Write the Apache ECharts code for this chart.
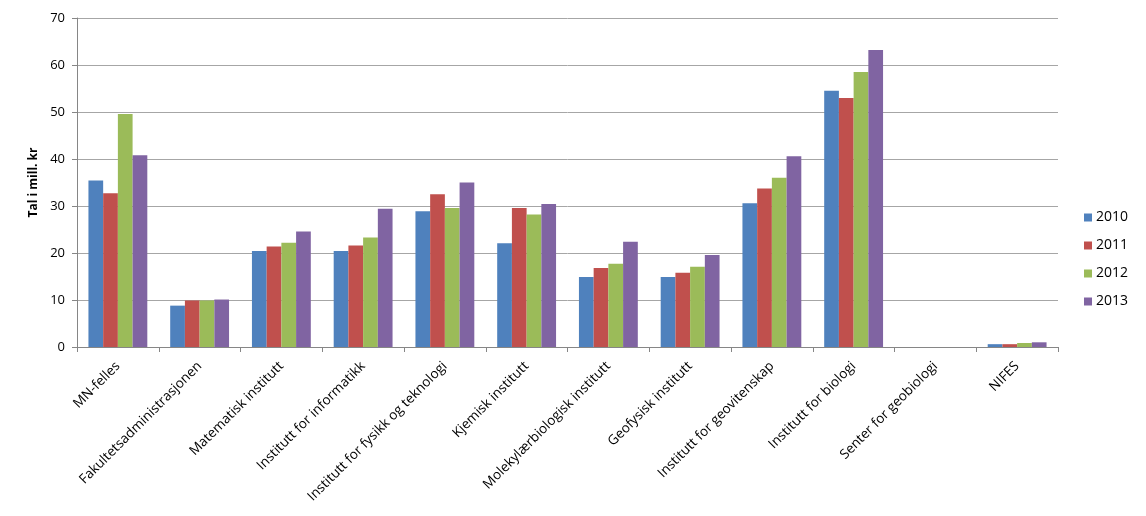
<!DOCTYPE html>
<html>
<head>
<meta charset="utf-8">
<script src="https://cdn.jsdelivr.net/npm/echarts@6/dist/echarts.min.js"></script>
<style>
  html, body { margin: 0; padding: 0; background: #fff; }
  #chart { width: 1146px; height: 516px; }
</style>
</head>
<body>
<div id="chart"></div>
<script>
// ----------------- D A T A ----------------- //
const categories = [
  'MN-felles',
  'Fakultetsadministrasjonen',
  'Matematisk institutt',
  'Institutt for informatikk',
  'Institutt for fysikk og teknologi',
  'Kjemisk institutt',
  'Molekylærbiologisk institutt',
  'Geofysisk institutt',
  'Institutt for geovitenskap',
  'Institutt for biologi',
  'Senter for geobiologi',
  'NIFES'
]
const years = ['2010', '2011', '2012', '2013']
const v2010 = [35.4, 8.8, 20.4, 20.4, 28.9, 22.1, 14.9, 14.9, 30.6, 54.5, 0, 0.6]
const v2011 = [32.7, 9.9, 21.4, 21.6, 32.5, 29.6, 16.8, 15.8, 33.7, 53.0, 0, 0.6]
const v2012 = [49.6, 9.9, 22.2, 23.3, 29.6, 28.2, 17.7, 17.1, 36.0, 58.5, 0, 0.85]
const v2013 = [40.8, 10.1, 24.6, 29.4, 35.0, 30.4, 22.4, 19.6, 40.6, 63.2, 0, 1.0]
const yTicks = [0, 10, 20, 30, 40, 50, 60, 70]

const colors = ['#4F81BD', '#C0504D', '#9BBB59', '#8064A2']
const font = 'Open Sans'

const seriesData = [v2010, v2011, v2012, v2013]

const option = {
  animation: false,
  color: colors,
  textStyle: { fontFamily: font },
  grid: {
    left: 77,
    right: 88,
    top: 18,
    bottom: 169
  },
  legend: {
    orient: 'vertical',
    left: 1079,
    top: 205,
    itemWidth: 8,
    itemHeight: 8,
    itemGap: 13,
    icon: 'rect',
    data: years,
    textStyle: { fontFamily: font, fontSize: 14, color: '#000', lineHeight: 15, padding: [0, 0, 0, -1] }
  },
  xAxis: {
    type: 'category',
    data: categories,
    axisLine: { lineStyle: { color: '#868686', width: 1 } },
    axisTick: { show: true, length: 5, lineStyle: { color: '#868686' } },
    axisLabel: {
      rotate: 45,
      interval: 0,
      fontFamily: font,
      fontSize: 13.5,
      color: '#000',
      margin: 17
    }
  },
  yAxis: {
    type: 'value',
    min: yTicks[0],
    max: yTicks[yTicks.length - 1],
    interval: 10,
    name: 'Tal i mill. kr',
    nameLocation: 'middle',
    nameGap: 30,
    nameTextStyle: { fontFamily: font, fontSize: 12, fontWeight: 'bold', color: '#000' },
    axisLine: { show: true, lineStyle: { color: '#868686' } },
    axisTick: { show: true, length: 5, lineStyle: { color: '#868686' } },
    axisLabel: { fontFamily: font, fontSize: 13, color: '#000', margin: 12 },
    splitLine: { lineStyle: { color: '#a6a6a6', width: 1 } }
  },
  series: years.map((y, i) => ({
    name: y,
    type: 'bar',
    data: seriesData[i],
    barGap: '0%',
    barCategoryGap: '28%',
    itemStyle: { color: colors[i] }
  }))
}

const myChart = echarts.init(document.getElementById('chart'))
myChart.setOption(option)
</script>
</body>
</html>
